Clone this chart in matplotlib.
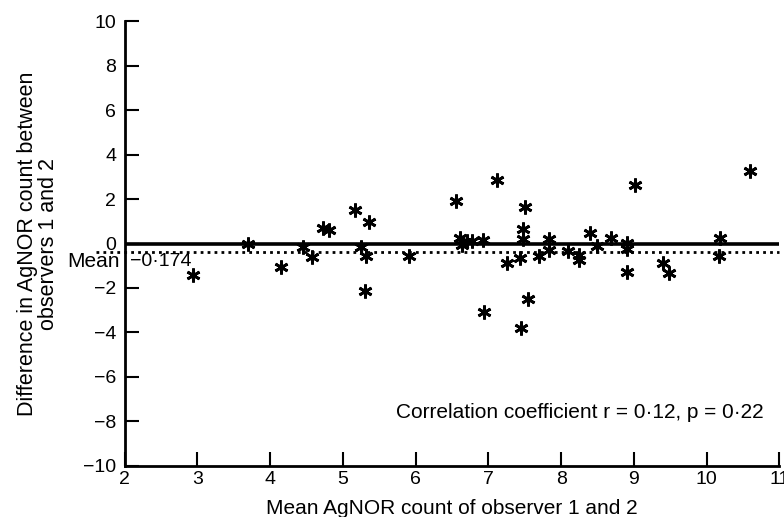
import matplotlib.pyplot as plt

plt.rcParams['font.family'] = ['Liberation Sans', 'DejaVu Sans']

# mean AgNOR count of the two observers, and their difference
mean_count = [2.94, 3.69, 4.15, 4.45, 4.58, 4.73, 4.81, 5.17, 5.25, 5.32,
              5.36, 5.31, 5.91, 6.55, 6.61, 6.64, 6.70, 6.78, 6.93, 6.94,
              7.12, 7.25, 7.44, 7.45, 7.50, 7.48, 7.48, 7.54, 7.69, 7.84,
              7.84, 8.10, 8.24, 8.25, 8.40, 8.50, 8.69, 8.90, 8.90, 8.90,
              9.01, 9.40, 9.49, 10.18, 10.17, 10.60]
difference = [-1.42, 0.0, -1.06, -0.16, -0.61, 0.70, 0.61, 1.51, -0.16, -0.56,
              0.97, -2.13, -0.56, 1.91, 0.25, -0.07, 0.11, 0.11, 0.16, -3.08,
              2.85, -0.88, -0.65, -3.80, 1.64, 0.65, 0.20, -2.49, -0.56, 0.20,
              -0.29, -0.34, -0.52, -0.74, 0.47, -0.11, 0.25, 0.02, -0.25, -1.28,
              2.63, -0.88, -1.33, 0.25, -0.56, 3.26]

mean_line = -0.4          # where the dotted mean line sits in the figure
mean_label = '\u22120\u00b7174'
x_ticks = [2, 3, 4, 5, 6, 7, 8, 9, 10, 11]
y_ticks = [-10, -8, -6, -4, -2, 0, 2, 4, 6, 8, 10]

fig = plt.figure(figsize=(7.84, 5.17), dpi=100)
ax = fig.add_axes([0.159, 0.099, 0.835, 0.860])

ax.axhline(0, color='black', lw=2.6, zorder=1)
ax.plot([1.6, 11], [mean_line, mean_line], color='black', lw=2,
        ls=(0, (1, 1.5)), clip_on=False, zorder=1)

ax.plot(mean_count, difference, ls='none', marker=(6, 2, 0), ms=10,
        mew=2, color='black', zorder=3)

ax.set_xlim(2, 11)
ax.set_ylim(-10, 10)
ax.set_xticks(x_ticks)
ax.set_yticks(y_ticks)
ax.set_yticklabels([str(v).replace('-', '\u2212') for v in y_ticks])

for side in ['top', 'right']:
    ax.spines[side].set_visible(False)
for side in ['left', 'bottom']:
    ax.spines[side].set_linewidth(2)

ax.tick_params(direction='in', length=10, width=1.5, labelsize=14)
ax.tick_params(axis='x', pad=4)
ax.tick_params(axis='y', pad=6)

ax.text(1.93, -0.83, 'Mean', ha='right', va='center', fontsize=15,
        clip_on=False)
ax.text(2.07, -0.83, mean_label, ha='left', va='center', fontsize=14)

ax.text(10.78, -7.6, 'Correlation coefficient r = 0\u00b712, p = 0\u00b722',
        ha='right', va='center', fontsize=15)

ax.set_xlabel('Mean AgNOR count of observer 1 and 2', fontsize=15, labelpad=8)
ax.set_ylabel('Difference in AgNOR count between\nobservers 1 and 2',
              fontsize=15.5, linespacing=1.0)
ax.yaxis.set_label_coords(-0.1, 0.5)

fig.savefig('out.png', dpi=100)
